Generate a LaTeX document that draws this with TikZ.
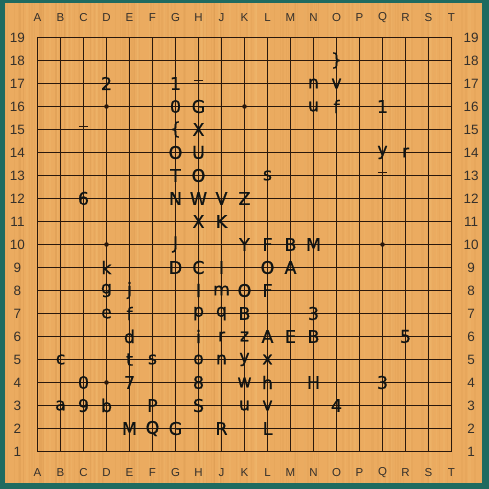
\documentclass[tikz,border=0pt]{standalone}
\usepackage{fontspec}
\setmainfont{DejaVu Sans}
\newfontfamily\labfont[FakeBold=0.7]{DejaVu Sans}
\newfontfamily\coordfont{Liberation Sans}
\definecolor{woodc}{HTML}{EBAB60}
\definecolor{woodd}{HTML}{C98840}
\definecolor{woodl}{HTML}{F6C27A}
\definecolor{bordc}{HTML}{1F6B60}
\definecolor{gridc}{HTML}{2A180C}
\definecolor{labc}{HTML}{101414}
\definecolor{coordc}{HTML}{35302B}
\newcommand\gpx[1]{37.5+(#1-1)*23}
\newcommand\gpy[1]{451.5-(#1-1)*23}
\begin{document}
\begin{tikzpicture}[x=1pt,y=-1pt,
  lbl/.style={inner sep=0pt,text=labc,font=\labfont\fontsize{17.5}{17.5}\selectfont},
  crd/.style={inner sep=0pt,text=coordc,font=\coordfont\fontsize{11.5}{11.5}\selectfont},
  crdn/.style={inner sep=0pt,text=coordc,font=\coordfont\fontsize{13.5}{13.5}\selectfont},
  gridline/.style={draw=gridc,line width=1.3pt},
  tick/.style={draw=gridc,line width=1pt},
  star/.style={circle,fill=gridc,inner sep=0pt,minimum size=4.6pt}]
\useasboundingbox (0,0) rectangle (489,489);
\fill[bordc] (0,0) rectangle (489,489);
\fill[woodc] (5,3.5) rectangle (482,483);
% wood grain
\pgfmathsetseed{7}
\foreach \i in {1,...,140}{
  \pgfmathsetmacro\xx{5+rnd*477}
  \pgfmathsetmacro\ww{0.3+rnd*1.6}
  \draw[woodd,opacity=0.10,line width=\ww pt] (\xx,3.5) -- (\xx,483);
}
\foreach \i in {1,...,60}{
  \pgfmathsetmacro\xx{5+rnd*477}
  \pgfmathsetmacro\ww{0.5+rnd*2}
  \draw[woodl,opacity=0.18,line width=\ww pt] (\xx,3.5) -- (\xx,483);
}
% grid
\foreach \k in {1,...,19}{
  \draw[gridline] ({\gpx{\k}},{\gpy{1}}) -- ({\gpx{\k}},{\gpy{19}});
  \draw[gridline] ({\gpx{1}},{\gpy{\k}}) -- ({\gpx{19}},{\gpy{\k}});
}
% star points
\foreach \c/\r in {4/16,10/16,4/10,16/10,4/4}{
  \node[star] (st\c-\r) at ({\gpx{\c}},{\gpy{\r}}) {};
}
% small tick marks
\foreach \c/\r in {3/15,8/17,16/13}{
  \coordinate (tk\c-\r) at ({\gpx{\c}},{\gpy{\r}-3});
  \draw[tick] ([xshift=-4.7pt]tk\c-\r) -- ([xshift=4.7pt]tk\c-\r);
}
% coordinates
\foreach \t [count=\k] in {A,B,C,D,E,F,G,H,J,K,L,M,N,O,P,Q,R,S,T}{
  \node[crd] (ct\k) at ({\gpx{\k}},17.5) {\t};
  \node[crd] (cb\k) at ({\gpx{\k}},472.5) {\t};
}
\foreach \k in {1,...,19}{
  \node[crdn] (cl\k) at (17.5,{\gpy{\k}}) {\k};
  \node[crdn] (cr\k) at (471,{\gpy{\k}}) {\k};
}
% labels
\foreach \c/\r/\t in {
 4/17/2, 7/17/1, 13/17/n, 14/17/v, 14/18/\},
 7/16/0, 8/16/G, 13/16/u, 14/16/f, 16/16/1,
 7/15/\{, 8/15/X,
 7/14/O, 8/14/U, 16/14/y, 17/14/r,
 7/13/T, 8/13/O, 11/13/s,
 3/12/6, 7/12/N, 8/12/W, 9/12/V, 10/12/Z,
 8/11/X, 9/11/K,
 7/10/J, 10/10/Y, 11/10/F, 12/10/B, 13/10/M,
 4/9/k, 7/9/D, 8/9/C, 9/9/I, 11/9/O, 12/9/A,
 4/8/g, 5/8/j, 8/8/l, 9/8/m, 10/8/O, 11/8/F,
 4/7/e, 5/7/f, 8/7/p, 9/7/q, 10/7/B, 13/7/3,
 5/6/d, 8/6/i, 9/6/r, 10/6/z, 11/6/A, 12/6/E, 13/6/B, 17/6/5,
 2/5/c, 5/5/t, 6/5/s, 8/5/o, 9/5/n, 10/5/y, 11/5/x,
 3/4/0, 5/4/7, 8/4/8, 10/4/w, 11/4/h, 13/4/H, 16/4/3,
 2/3/a, 3/3/9, 4/3/b, 6/3/P, 8/3/S, 10/3/u, 11/3/v, 14/3/4,
 5/2/M, 6/2/Q, 7/2/G, 9/2/R, 11/2/L}{
  \node[lbl] (p\c-\r) at ({\gpx{\c}},{\gpy{\r}}) {\t};
}
\end{tikzpicture}
\end{document}
